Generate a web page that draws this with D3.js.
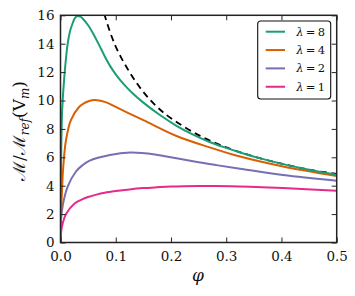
<!DOCTYPE html>
<html>
<head>
<meta charset="utf-8">
<script src="https://cdn.jsdelivr.net/npm/d3@7"></script>
<style>
  html, body { margin: 0; padding: 0; background: #fff; }
  svg { display: block; }
</style>
</head>
<body>
<svg id="chart" width="355" height="296"></svg>
<script>
// ---- data ----
const xTicks = [0.0, 0.1, 0.2, 0.3, 0.4, 0.5];
const yTicks = [0, 2, 4, 6, 8, 10, 12, 14, 16];

const phi8 = [0, 0.001, 0.003, 0.007, 0.013, 0.017, 0.022, 0.026, 0.031, 0.036, 0.04, 0.05, 0.06, 0.07, 0.08, 0.09, 0.1, 0.114, 0.13, 0.15, 0.18, 0.21, 0.24, 0.27, 0.3, 0.325, 0.36, 0.403, 0.45, 0.5];
const val8 = [0, 5.5, 9.3, 11.7, 14.0, 14.85, 15.44, 15.8, 15.95, 15.9, 15.78, 15.3, 14.65, 13.9, 13.12, 12.42, 11.84, 11.17, 10.53, 9.85, 8.98, 8.22, 7.6, 7.08, 6.66, 6.34, 5.94, 5.52, 5.13, 4.78];

const phi4 = [0, 0.001, 0.002, 0.005, 0.010, 0.019, 0.034, 0.043, 0.052, 0.061, 0.07, 0.08, 0.09, 0.1, 0.12, 0.15, 0.21, 0.27, 0.325, 0.403, 0.5];
const val4 = [0, 2.0, 3.0, 5.34, 7.22, 8.63, 9.56, 9.82, 9.96, 10.03, 10.0, 9.9, 9.75, 9.55, 9.17, 8.62, 7.5, 6.7, 6.05, 5.35, 4.68];

const phi2 = [0, 0.001, 0.004, 0.013, 0.028, 0.04, 0.052, 0.0895, 0.126, 0.171, 0.21, 0.25, 0.282, 0.325, 0.403, 0.5];
const val2 = [0, 1.6, 2.6, 3.93, 5.0, 5.45, 5.75, 6.16, 6.33, 6.2, 5.93, 5.65, 5.45, 5.2, 4.75, 4.35];

const phi1 = [0, 0.001, 0.004, 0.010, 0.026, 0.04, 0.05, 0.065, 0.08, 0.1, 0.125, 0.15, 0.175, 0.2, 0.25, 0.28, 0.343, 0.403, 0.5];
const val1 = [0, 0.7, 1.35, 2.0, 2.76, 3.05, 3.2, 3.37, 3.5, 3.62, 3.74, 3.83, 3.89, 3.94, 3.98, 3.98, 3.92, 3.83, 3.65];

const phiInf = [0.07, 0.08, 0.1, 0.125, 0.15, 0.175, 0.2, 0.25, 0.3, 0.35, 0.4, 0.45, 0.5];
const valInf = [17.6, 16.0, 13.8, 12.0, 10.6, 9.54, 8.75, 7.56, 6.70, 6.06, 5.55, 5.13, 4.83];

const seriesLambda = ["8", "4", "2", "1"];
const seriesColors = ["#1b9e77", "#d95f02", "#7570b3", "#e7298a"];

const series = [
  { phi: phi8, val: val8 },
  { phi: phi4, val: val4 },
  { phi: phi2, val: val2 },
  { phi: phi1, val: val1 }
];

// ---- layout ----
const FONT = "'DejaVu Serif', serif";
const svg = d3.select("#chart");
const L = 60.5, R = 336.7, T = 15.3, B = 242.5;

const x = d3.scaleLinear().domain([0, 0.5]).range([L, R]);
const y = d3.scaleLinear().domain([0, 16]).range([B, T]);

svg.append("defs").append("clipPath").attr("id", "clip")
  .append("rect").attr("x", L).attr("y", T).attr("width", R - L).attr("height", B - T);

const line = d3.line()
  .x(d => x(d[0])).y(d => y(d[1]))
  .curve(d3.curveCatmullRom.alpha(0.5));

const plot = svg.append("g").attr("clip-path", "url(#clip)");

// dashed asymptote
plot.append("path")
  .attr("d", line(d3.zip(phiInf, valInf)))
  .attr("fill", "none").attr("stroke", "#000")
  .attr("stroke-width", 1.8).attr("stroke-dasharray", "6.5,4.5");

for (let i = series.length - 1; i >= 0; i--) {
  const s = series[i];
  plot.append("path")
    .attr("d", line(d3.zip(s.phi, s.val)))
    .attr("fill", "none")
    .attr("stroke", seriesColors[i])
    .attr("stroke-width", 2);
}

// ---- axes (ticks inward on all sides) ----
const tickLen = 5;
const fmtX = d3.format(".1f");

const axB = svg.append("g").attr("transform", `translate(0,${B})`)
  .call(d3.axisBottom(x).tickValues(xTicks).tickSize(-tickLen).tickPadding(9).tickFormat(fmtX));
const axT = svg.append("g").attr("transform", `translate(0,${T})`)
  .call(d3.axisTop(x).tickValues(xTicks).tickSize(-tickLen).tickFormat(""));
const axL = svg.append("g").attr("transform", `translate(${L},0)`)
  .call(d3.axisLeft(y).tickValues(yTicks).tickSize(-tickLen).tickFormat(d3.format("d")));
const axR = svg.append("g").attr("transform", `translate(${R},0)`)
  .call(d3.axisRight(y).tickValues(yTicks).tickSize(-tickLen).tickFormat(""));

[axB, axT, axL, axR].forEach(a => {
  a.attr("font-family", FONT).attr("font-size", 13.5);
  a.select(".domain").remove();
  a.selectAll(".tick line").attr("stroke", "#222").attr("stroke-width", 1);
  a.selectAll("text").attr("fill", "#111");
});
axL.selectAll("text").attr("x", -6);

// frame
svg.append("rect").attr("x", L).attr("y", T).attr("width", R - L).attr("height", B - T)
  .attr("fill", "none").attr("stroke", "#222").attr("stroke-width", 1.5);

// ---- axis titles ----
svg.append("text")
  .attr("x", 198).attr("y", 281)
  .attr("text-anchor", "middle")
  .attr("font-family", FONT)
  .attr("font-size", 17).attr("font-style", "italic").attr("fill", "#111")
  .text("φ");

const yl = svg.append("text")
  .attr("transform", "translate(25,131) rotate(-90)")
  .attr("text-anchor", "middle")
  .attr("font-family", FONT).attr("fill", "#111")
  .attr("font-size", 17);
yl.append("tspan").text("ℳ/ℳ");
yl.append("tspan").attr("font-size", 12).attr("font-style", "italic").attr("dy", 4).text("ref");
yl.append("tspan").attr("dy", -4).text("(V");
yl.append("tspan").attr("font-size", 12).attr("font-style", "italic").attr("dy", 4).text("m");
yl.append("tspan").attr("dy", -4).text(")");

// ---- legend ----
const lg = svg.append("g");
lg.append("rect").attr("x", 257.7).attr("y", 21).attr("width", 73).attr("height", 78)
  .attr("rx", 3).attr("fill", "#fff").attr("stroke", "#111").attr("stroke-width", 1.1);
seriesLambda.forEach((n, i) => {
  const yy = 31.7 + i * 18.35;
  lg.append("line").attr("x1", 265.7).attr("x2", 285).attr("y1", yy).attr("y2", yy)
    .attr("stroke", seriesColors[i]).attr("stroke-width", 2);
  const t = lg.append("text").attr("x", 325).attr("y", yy + 4)
    .attr("text-anchor", "end").attr("font-family", FONT)
    .attr("font-size", 11.5).attr("fill", "#111");
  t.append("tspan").attr("font-style", "italic").text("λ");
  t.append("tspan").text("\u2009=\u2009" + n);
});
</script>
</body>
</html>
